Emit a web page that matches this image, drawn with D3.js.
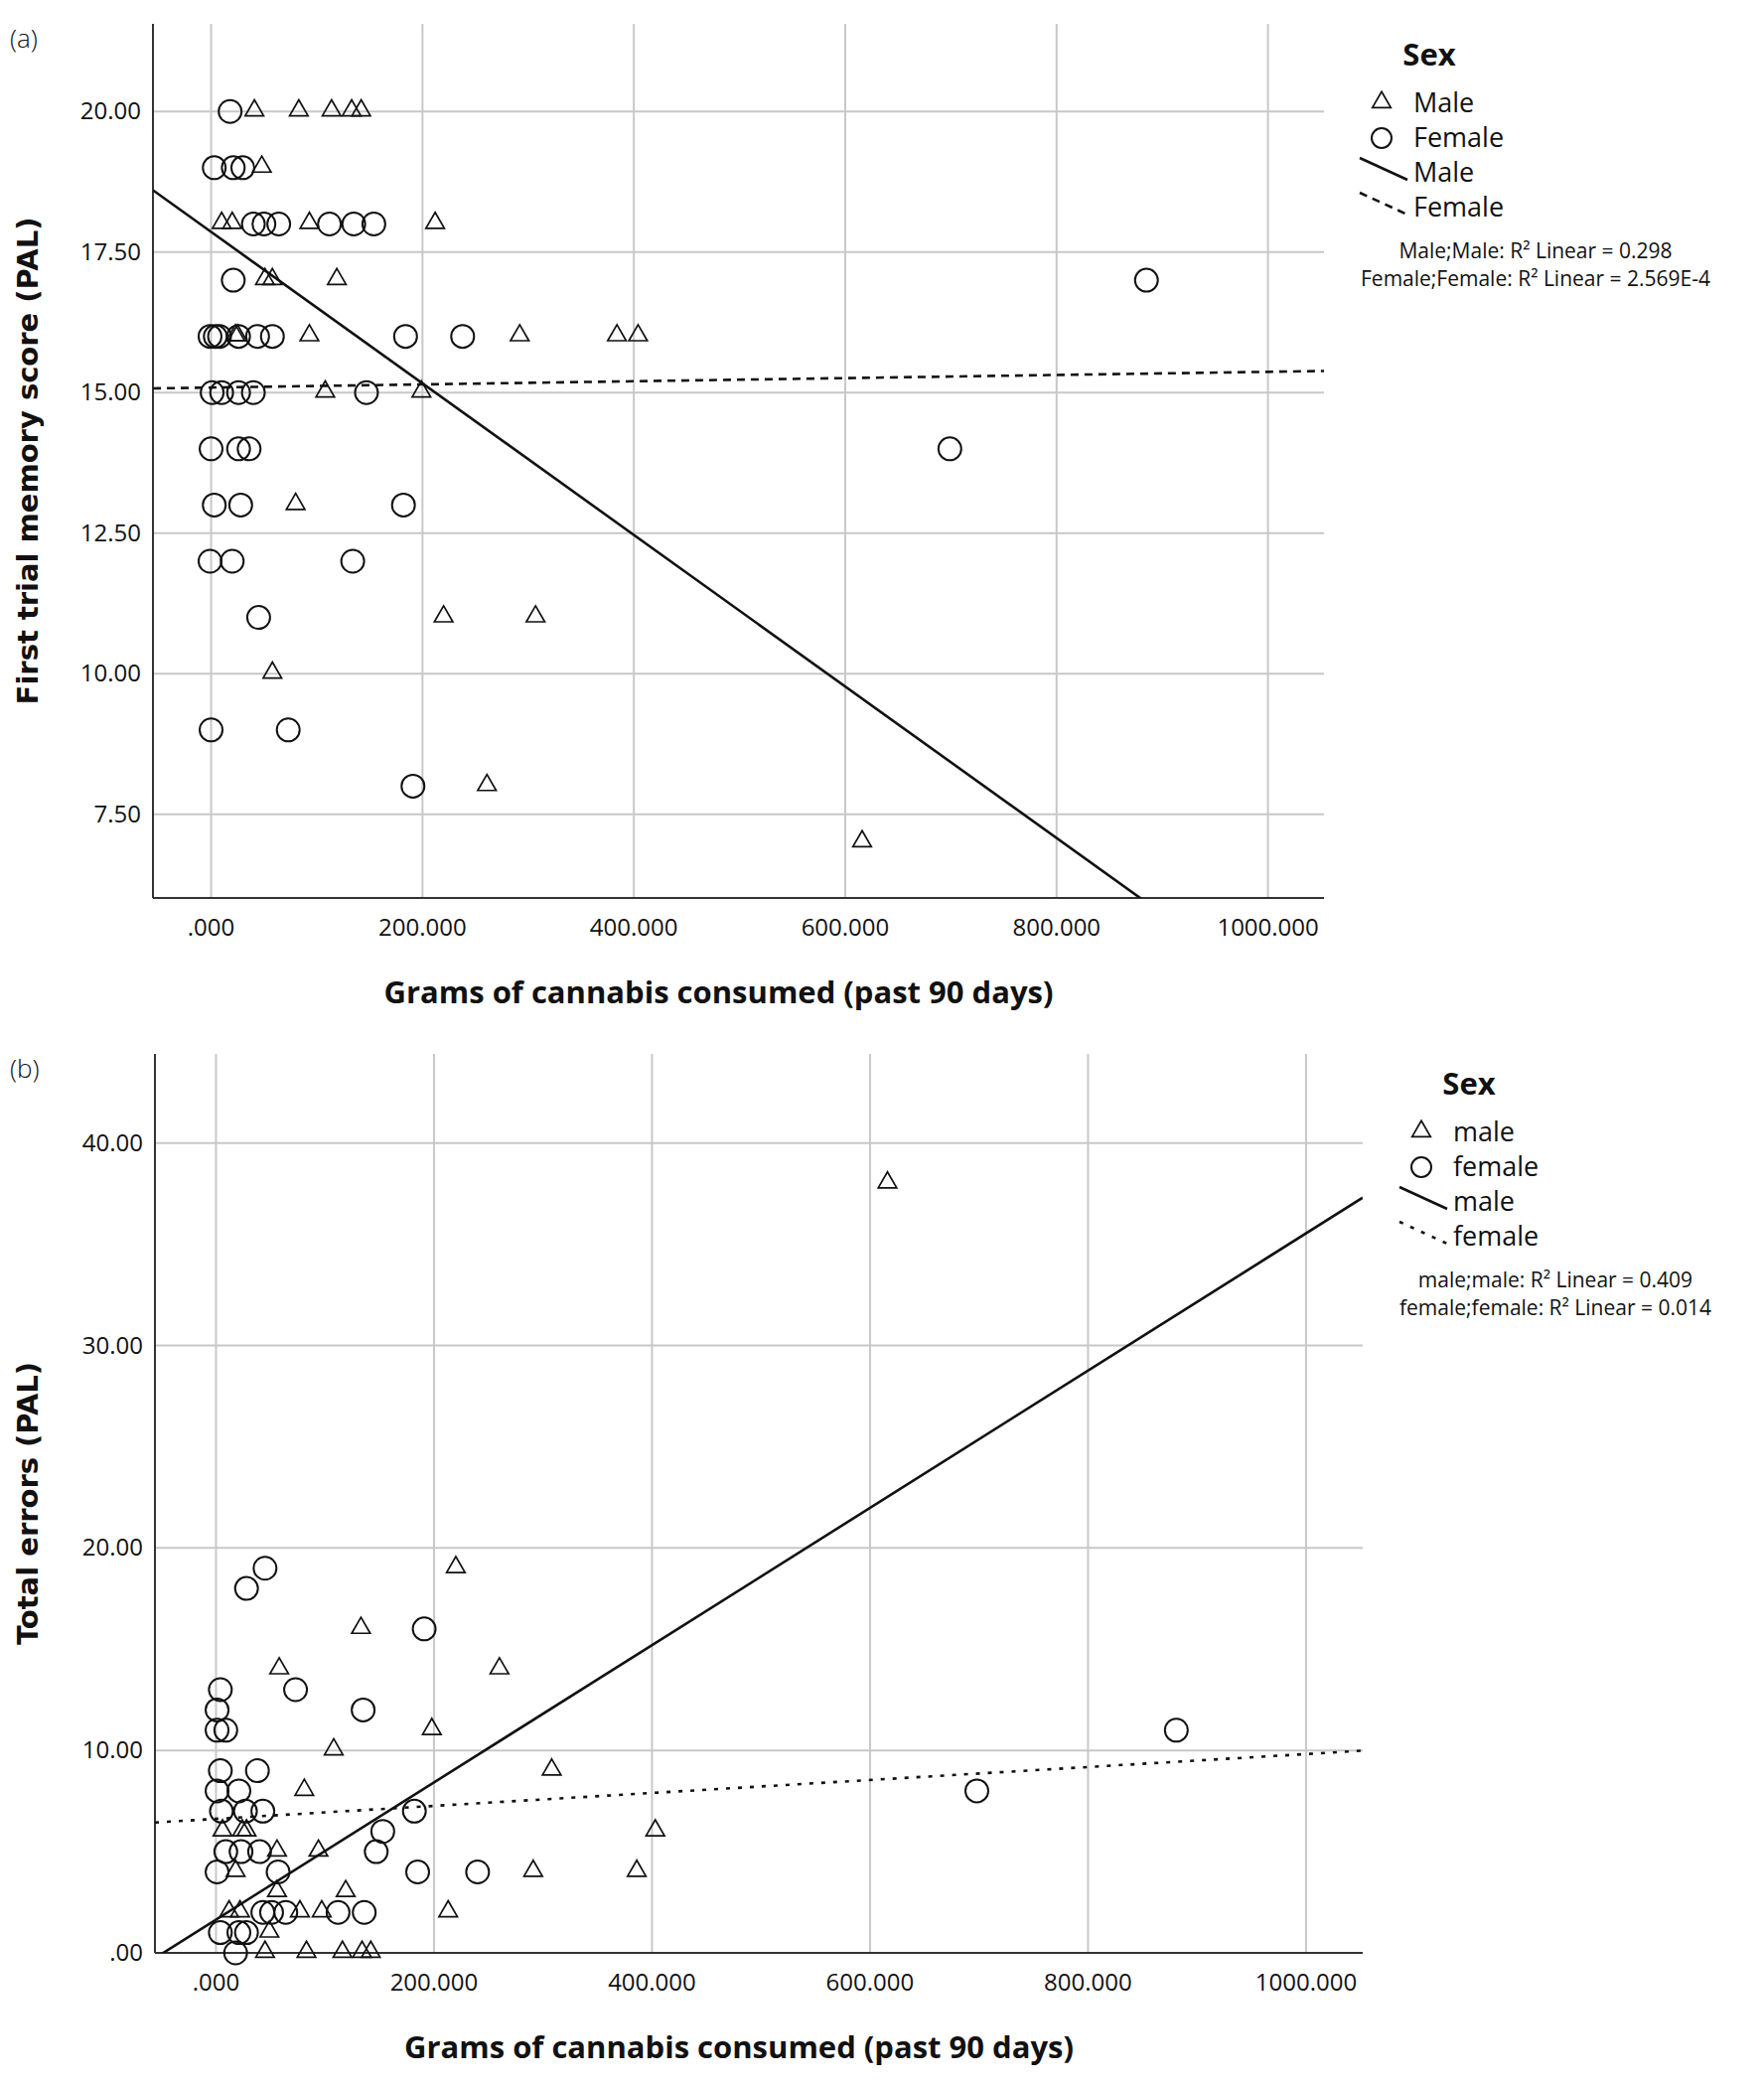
<!DOCTYPE html>
<html>
<head>
<meta charset="utf-8">
<script src="https://cdn.jsdelivr.net/npm/d3@7"></script>
<style>
body { margin: 0; background: #fff; }
text { font-family: "Open Sans", sans-serif; fill: #111; }
</style>
</head>
<body>
<div class="chart"></div>
<script>
// panel (a): first trial memory score
const aMaleX = [41,83,114,133,142, 48, 10,20,93,212, 51,58,119, 23,25,93,292,384,404, 108,199, 80, 220,307, 58, 261, 616];
const aMaleY = [20,20,20,20,20, 19, 18,18,18,18, 17,17,17, 16,16,16,16,16,16, 15,15, 13, 11,11, 10, 8, 7];
const aFemX = [18, 3,21,30, 40,50,64,112,135,154, 21,885, -1,4,8,26,44,58,184,238, 1,10,26,40,147, 0,26,36,699, 3,28,182, -1,20,134, 45, 0,73, 191];
const aFemY = [20, 19,19,19, 18,18,18,18,18,18, 17,17, 16,16,16,16,16,16,16,16, 15,15,15,15,15, 14,14,14,14, 13,13,13, 12,12,12, 11, 9,9, 8];
const aXTicks = [0, 200, 400, 600, 800, 1000];
const aYTicks = [7.5, 10, 12.5, 15, 17.5, 20];
const aFit = { male: [17.86, -0.01348], female: [15.09, 0.00028] }; // intercept, slope
const aR2 = ["Male;Male: R² Linear = 0.298", "Female;Female: R² Linear = 2.569E-4"];

// panel (b): total errors
const bMaleX = [616, 220, 133, 260, 58, 198, 108, 308, 81, 403, 6,24,28, 94,56, 18,291,386, 56,119, 12,22,77,97,213, 49, 45,83,116,134,142];
const bMaleY = [38, 19, 16, 14, 14, 11, 10, 9, 8, 6, 6,6,6, 5,5, 4,4,4, 3,3, 2,2,2,2,2, 1, 0,0,0,0,0];
const bFemX = [28, 45, 191, 4,73, 135,1, 1,9, 881, 4,38, 1,21,698, 5,27,43,182, 153, 9,23,40,147, 1,57,185,240, 43,51,64,112,136, 4,21,28, 18];
const bFemY = [18, 19, 16, 13,13, 12,12, 11,11, 11, 9,9, 8,8,8, 7,7,7,7, 6, 5,5,5,5, 4,4,4,4, 2,2,2,2,2, 1,1,1, 0];
const bXTicks = [0, 200, 400, 600, 800, 1000];
const bYTicks = [0, 10, 20, 30, 40];
const bFit = { male: [1.64, 0.0339], female: [6.62, 0.0032] };
const bR2 = ["male;male: R² Linear = 0.409", "female;female: R² Linear = 0.014"];

const svg = d3.select(".chart").append("svg")
  .attr("width", 1776).attr("height", 2100);

function drawPanel(o) {
  const g = svg.append("g");
  const x = d3.scaleLinear().domain(o.xDom).range([o.left, o.right]);
  const y = d3.scaleLinear().domain(o.yDom).range([o.bottom, o.top]);

  // grid
  g.selectAll(".vg").data(o.xTicks).join("line")
    .attr("x1", d => x(d)).attr("x2", d => x(d))
    .attr("y1", o.top).attr("y2", o.bottom)
    .attr("stroke", "#c8c8c8").attr("stroke-width", 2);
  g.selectAll(".hg").data(o.yTicks).join("line")
    .attr("x1", o.left).attr("x2", o.right)
    .attr("y1", d => y(d)).attr("y2", d => y(d))
    .attr("stroke", "#c8c8c8").attr("stroke-width", 2);

  // axes
  g.append("line").attr("x1", o.left).attr("x2", o.left).attr("y1", o.top).attr("y2", o.bottom)
    .attr("stroke", "#333").attr("stroke-width", 2);
  g.append("line").attr("x1", o.left).attr("x2", o.right).attr("y1", o.bottom).attr("y2", o.bottom)
    .attr("stroke", "#333").attr("stroke-width", 2);

  g.selectAll(".xt").data(o.xTicks).join("text")
    .attr("x", d => x(d)).attr("y", o.bottom + 38)
    .attr("text-anchor", "middle").attr("font-size", 24)
    .text(d => d === 0 ? ".000" : d3.format(".3f")(d));
  g.selectAll(".yt").data(o.yTicks).join("text")
    .attr("x", o.left - 12).attr("y", d => y(d) + 8)
    .attr("text-anchor", "end").attr("font-size", 24)
    .text(d => d === 0 ? ".00" : d3.format(".2f")(d));

  g.append("text").attr("x", (o.left + o.right) / 2 - 20).attr("y", o.bottom + 106)
    .attr("text-anchor", "middle").attr("font-size", 31).attr("font-weight", "bold")
    .text("Grams of cannabis consumed (past 90 days)");
  g.append("text")
    .attr("transform", `translate(38,${(o.top + o.bottom) / 2}) rotate(-90)`)
    .attr("text-anchor", "middle").attr("font-size", 29).attr("font-weight", "bold")
    .style("font-family", "DejaVu Sans").text(o.yTitle);
  g.append("text").attr("x", 10).attr("y", o.top + 24).attr("font-size", 26)
    .style("font-weight", 300).text(o.tag);

  // fit lines, clipped to plot area
  const clipId = "clip" + o.tag.replace(/\W/g, "");
  svg.append("clipPath").attr("id", clipId).append("rect")
    .attr("x", o.left).attr("y", o.top).attr("width", o.right - o.left).attr("height", o.bottom - o.top);
  const line = d3.line().x(d => x(d[0])).y(d => y(d[1]));
  [["male", null], ["female", o.dash]].forEach(([k, dash]) => {
    const f = o.fit[k];
    const pts = o.xDom.map(v => [v, f[0] + f[1] * v]);
    g.append("path").attr("d", line(pts)).attr("fill", "none")
      .attr("stroke", "#111").attr("stroke-width", 2.6)
      .attr("stroke-dasharray", dash).attr("clip-path", `url(#${clipId})`);
  });

  const tri = d3.symbol().type(d3.symbolTriangle).size(150);
  g.selectAll(".m").data(o.mx.map((v, i) => [v, o.my[i]])).join("path")
    .attr("d", tri).attr("transform", d => `translate(${x(d[0])},${y(d[1]) - 1})`)
    .attr("fill", "none").attr("stroke", "#111").attr("stroke-width", 1.7);
  g.selectAll(".f").data(o.fx.map((v, i) => [v, o.fy[i]])).join("circle")
    .attr("cx", d => x(d[0])).attr("cy", d => y(d[1])).attr("r", 11.5)
    .attr("fill", "none").attr("stroke", "#111").attr("stroke-width", 2);

  // legend
  const L = o.legend;
  g.append("text").attr("x", L.x + 48).attr("y", L.y).attr("text-anchor", "middle")
    .attr("font-size", 31).attr("font-weight", "bold").text("Sex");
  const rows = [L.y + 47, L.y + 82, L.y + 117, L.y + 152];
  g.append("path").attr("d", tri).attr("transform", `translate(${L.x},${rows[0] - 10})`)
    .attr("fill", "none").attr("stroke", "#111").attr("stroke-width", 1.7);
  g.append("circle").attr("cx", L.x).attr("cy", rows[1] - 9).attr("r", 10)
    .attr("fill", "none").attr("stroke", "#111").attr("stroke-width", 2);
  g.append("line").attr("x1", L.x - 22).attr("x2", L.x + 26).attr("y1", rows[2] - 24).attr("y2", rows[2] - 2)
    .attr("stroke", "#111").attr("stroke-width", 2.6);
  g.append("line").attr("x1", L.x - 22).attr("x2", L.x + 26).attr("y1", rows[3] - 24).attr("y2", rows[3] - 2)
    .attr("stroke", "#111").attr("stroke-width", 2.6).attr("stroke-dasharray", o.dash);
  o.labels.forEach((t, i) => {
    g.append("text").attr("x", L.x + 32).attr("y", rows[i]).attr("font-size", 27).text(t);
  });
  o.r2.forEach((t, i) => {
    g.append("text").attr("x", L.cx).attr("y", rows[3] + 42 + i * 28)
      .attr("text-anchor", "middle").attr("font-size", 21).text(t);
  });
}

drawPanel({
  tag: "(a)", left: 154, right: 1333, top: 24, bottom: 904,
  xDom: [-55, 1053], yDom: [6.01, 21.56],
  xTicks: aXTicks, yTicks: aYTicks, fit: aFit, dash: "8,6",
  mx: aMaleX, my: aMaleY, fx: aFemX, fy: aFemY,
  yTitle: "First trial memory score (PAL)",
  legend: { x: 1391, y: 66, cx: 1546 },
  labels: ["Male", "Female", "Male", "Female"], r2: aR2
});

drawPanel({
  tag: "(b)", left: 156, right: 1372, top: 1061, bottom: 1966,
  xDom: [-56, 1052], yDom: [0, 44.4],
  xTicks: bXTicks, yTicks: bYTicks, fit: bFit, dash: "4,8",
  mx: bMaleX, my: bMaleY, fx: bFemX, fy: bFemY,
  yTitle: "Total errors (PAL)",
  legend: { x: 1431, y: 1102, cx: 1566 },
  labels: ["male", "female", "male", "female"], r2: bR2
});
</script>
</body>
</html>
